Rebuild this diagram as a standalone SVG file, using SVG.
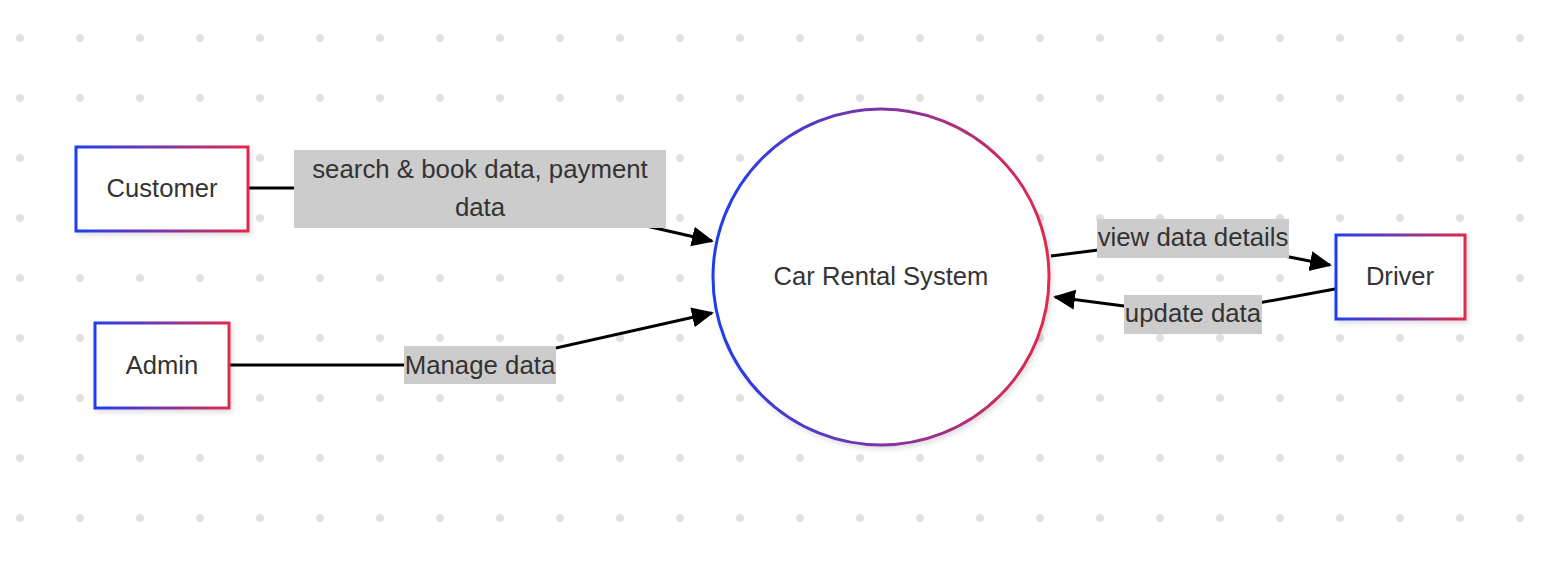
<svg xmlns="http://www.w3.org/2000/svg" width="1566" height="566" viewBox="0 0 1566 566">
  <defs>
    <pattern id="dots" x="0" y="8" width="60" height="60" patternUnits="userSpaceOnUse">
      <circle cx="20" cy="30" r="4" fill="#e1e1e5"/>
    </pattern>
    <linearGradient id="grad" x1="0" y1="0" x2="1" y2="0">
      <stop offset="0" stop-color="#1d3ef0"/>
      <stop offset="0.5" stop-color="#7d35a6"/>
      <stop offset="1" stop-color="#e02a4a"/>
    </linearGradient>
    <filter id="shadow" x="-10%" y="-10%" width="130%" height="130%">
      <feDropShadow dx="2" dy="3" stdDeviation="2.5" flood-color="#000" flood-opacity="0.12"/>
    </filter>
    <marker id="arrow" viewBox="0 0 22 22" refX="20" refY="11" markerWidth="22" markerHeight="22" markerUnits="userSpaceOnUse" orient="auto">
      <path d="M0,1 L22,11 L0,21 z" fill="#000"/>
    </marker>
    <style>
      .node { fill: #ffffff; stroke: url(#grad); stroke-width: 3; filter: url(#shadow); }
      .ntext { font-family: "Liberation Sans", Arial, sans-serif; font-size: 25.6px; fill: #333333; text-anchor: middle; }
      .edge { fill: none; stroke: #000; stroke-width: 3; stroke-linejoin: round; }
      .lbg { fill: #cccccc; }
      .ltext { font-family: "Liberation Sans", Arial, sans-serif; font-size: 25.8px; fill: #333333; text-anchor: middle; }
    </style>
  </defs>

  <rect x="0" y="0" width="1566" height="566" fill="#ffffff"/>
  <rect x="0" y="0" width="1566" height="566" fill="url(#dots)"/>

  <g id="connectors">
    <path class="edge" d="M249,188 L480,188 L712,241" marker-end="url(#arrow)"/>
    <path class="edge" d="M230,365 L480,365 L712,313" marker-end="url(#arrow)"/>
    <path class="edge" d="M1051,256 L1193,238 L1330,265" marker-end="url(#arrow)"/>
    <path class="edge" d="M1335,289 L1193,315 L1055,297" marker-end="url(#arrow)"/>
  </g>

  <g id="edge-labels">
    <g id="label-customer">
      <rect class="lbg" x="294" y="150" width="372" height="78"/>
      <text class="ltext" x="480" y="178">search &amp; book data, payment</text>
      <text class="ltext" x="480" y="216">data</text>
    </g>
    <g id="label-admin">
      <rect class="lbg" x="404" y="346" width="152" height="38"/>
      <text class="ltext" x="480" y="374">Manage data</text>
    </g>
    <g id="label-view">
      <rect class="lbg" x="1097" y="219" width="192" height="39"/>
      <text class="ltext" x="1193" y="246">view data details</text>
    </g>
    <g id="label-update">
      <rect class="lbg" x="1124" y="295" width="138" height="39"/>
      <text class="ltext" x="1193" y="322">update data</text>
    </g>
  </g>

  <g id="customer">
    <rect class="node" x="76" y="147" width="172" height="84"/>
    <text class="ntext" x="162" y="197">Customer</text>
  </g>
  <g id="admin">
    <rect class="node" x="95" y="323" width="134" height="85"/>
    <text class="ntext" x="162" y="374">Admin</text>
  </g>
  <g id="system">
    <circle class="node" cx="881" cy="277" r="168"/>
    <text class="ntext" x="881" y="285">Car Rental System</text>
  </g>
  <g id="driver">
    <rect class="node" x="1336" y="235" width="129" height="84"/>
    <text class="ntext" x="1400" y="285">Driver</text>
  </g>
</svg>
